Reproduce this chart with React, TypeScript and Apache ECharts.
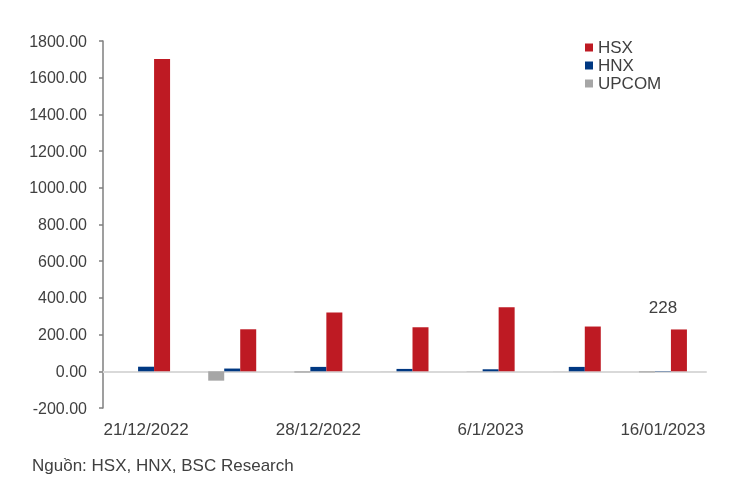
import React, { useEffect, useRef } from "react";
import * as echarts from "echarts";

// Trading dates (only every other one is labelled on the axis)
const categories = [
  "21/12/2022",
  "26/12/2022",
  "28/12/2022",
  "3/1/2023",
  "6/1/2023",
  "11/1/2023",
  "16/01/2023",
];

// Net values by exchange
const hsxValues = [1702, 229, 320, 240, 349, 244, 228];
const hnxValues = [25, 15, 24, 13, 11, 24, -2];
const upcomValues = [0.5, -51, -7, 0.5, 1.5, 0.5, -6];

const yTicks = { min: -200, max: 1800, interval: 200 };
const sourceNote = "Nguồn: HSX, HNX, BSC Research";

const FONT = "'Liberation Sans', Arial, sans-serif";
const TEXT = "#404040";

export default function App() {
  const ref = useRef<HTMLDivElement>(null);

  useEffect(() => {
    if (!ref.current) return;
    const chart = echarts.init(ref.current, null, { renderer: "svg" });
    chart.setOption({
      animation: false,
      textStyle: { fontFamily: FONT, color: TEXT },
      grid: { left: 103, right: 24, top: 41, bottom: 71, containLabel: false },
      legend: {
        orient: "vertical",
        left: 580,
        top: 34,
        icon: "rect",
        itemWidth: 8,
        itemHeight: 8,
        itemGap: 1,
        data: ["HSX", "HNX", "UPCOM"],
        textStyle: { fontSize: 17, color: TEXT, fontFamily: FONT, padding: [0, 0, 0, 0] },
      },
      xAxis: [
        {
          type: "category",
          data: categories,
          position: "bottom",
          axisLine: { show: true, onZero: true, lineStyle: { color: "#d9d9d9", width: 2 } },
          axisTick: { show: false },
          axisLabel: { show: false },
          splitLine: { show: false },
        },
        {
          type: "category",
          data: categories,
          position: "bottom",
          axisLine: { show: false, onZero: false },
          axisTick: { show: false },
          axisLabel: {
            interval: 1,
            margin: 13,
            fontSize: 17,
            color: TEXT,
            fontFamily: FONT,
          },
          splitLine: { show: false },
        },
      ],
      yAxis: {
        type: "value",
        min: yTicks.min,
        max: yTicks.max,
        interval: yTicks.interval,
        axisLine: { show: true, lineStyle: { color: "#7f7f7f", width: 1.5 } },
        axisTick: { show: true, length: 4, lineStyle: { color: "#7f7f7f", width: 1.5 } },
        splitLine: { show: false },
        axisLabel: {
          margin: 16,
          fontSize: 16,
          color: TEXT,
          fontFamily: FONT,
          formatter: (v: number) => v.toFixed(2),
        },
      },
      series: [
        {
          name: "UPCOM",
          type: "bar",
          xAxisIndex: 0,
          data: upcomValues,
          barWidth: 16,
          barGap: "0%",
          itemStyle: { color: "#a6a6a6" },
        },
        {
          name: "HNX",
          type: "bar",
          xAxisIndex: 0,
          data: hnxValues,
          barWidth: 16,
          barGap: "0%",
          itemStyle: { color: "#003882" },
        },
        {
          name: "HSX",
          type: "bar",
          xAxisIndex: 0,
          data: hsxValues.map((v, i) =>
            i === hsxValues.length - 1
              ? {
                  value: v,
                  label: {
                    show: true,
                    position: "top",
                    distance: 5,
                    offset: [-16, -8],
                    fontSize: 17,
                    color: TEXT,
                    fontFamily: FONT,
                    formatter: (p: any) => String(p.value),
                  },
                }
              : v
          ),
          barWidth: 16,
          barGap: "0%",
          itemStyle: { color: "#be1a23" },
        },
      ],
      graphic: [
        {
          type: "text",
          left: 32,
          top: 457,
          style: {
            text: sourceNote,
            fontSize: 17,
            fill: TEXT,
            fontFamily: FONT,
          },
        },
      ],
    });
    return () => chart.dispose();
  }, []);

  return (
    <div
      ref={ref}
      style={{ position: "fixed", left: 0, top: 0, width: 730, height: 479 }}
    />
  );
}
